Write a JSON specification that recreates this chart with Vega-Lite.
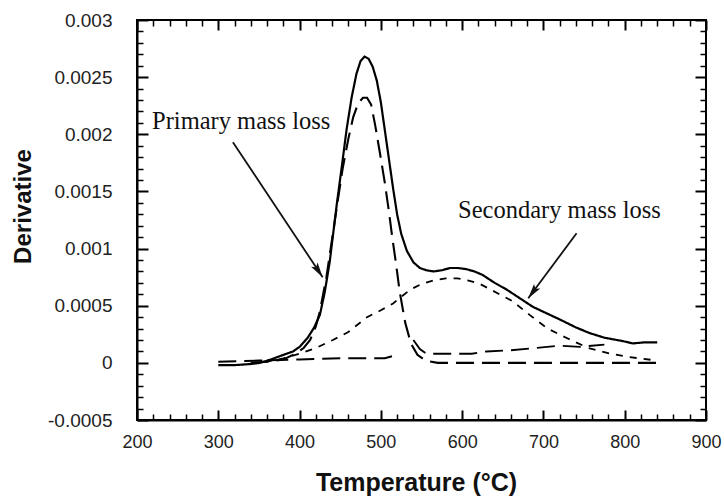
{
  "$schema": "https://vega.github.io/schema/vega-lite/v6.json",
  "width": 569,
  "height": 400,
  "autosize": "none",
  "padding": {"left": 137, "top": 20, "right": 18, "bottom": 81},
  "background": "white",
  "config": {
    "view": {"stroke": "#000", "strokeWidth": 2},
    "axis": {"grid": false, "domainColor": "#000", "domainWidth": 2, "labelOverlap": false, "labelFlush": false}
  },
  "datasets": {
    "curves": [
      {"series": "total", "T": 300, "v": -0.00002},
      {"series": "total", "T": 320, "v": -0.00002},
      {"series": "total", "T": 340, "v": -0.00001},
      {"series": "total", "T": 351, "v": 0},
      {"series": "total", "T": 365, "v": 0.00003},
      {"series": "total", "T": 380, "v": 0.00007},
      {"series": "total", "T": 392, "v": 0.0001},
      {"series": "total", "T": 400, "v": 0.00014},
      {"series": "total", "T": 410, "v": 0.00022},
      {"series": "total", "T": 418, "v": 0.00031},
      {"series": "total", "T": 425, "v": 0.00042},
      {"series": "total", "T": 431, "v": 0.00062},
      {"series": "total", "T": 437, "v": 0.00088},
      {"series": "total", "T": 446, "v": 0.0014},
      {"series": "total", "T": 452, "v": 0.00172},
      {"series": "total", "T": 458, "v": 0.00205},
      {"series": "total", "T": 464, "v": 0.00232},
      {"series": "total", "T": 470, "v": 0.00253},
      {"series": "total", "T": 475, "v": 0.00264},
      {"series": "total", "T": 480, "v": 0.00268},
      {"series": "total", "T": 485, "v": 0.00266},
      {"series": "total", "T": 490, "v": 0.00259},
      {"series": "total", "T": 495, "v": 0.00247},
      {"series": "total", "T": 500, "v": 0.00228},
      {"series": "total", "T": 505, "v": 0.00203},
      {"series": "total", "T": 510, "v": 0.00178},
      {"series": "total", "T": 515, "v": 0.00153},
      {"series": "total", "T": 520, "v": 0.0013},
      {"series": "total", "T": 525, "v": 0.00113},
      {"series": "total", "T": 532, "v": 0.00098},
      {"series": "total", "T": 540, "v": 0.00088},
      {"series": "total", "T": 548, "v": 0.00083},
      {"series": "total", "T": 556, "v": 0.00081},
      {"series": "total", "T": 565, "v": 0.0008},
      {"series": "total", "T": 575, "v": 0.00081},
      {"series": "total", "T": 585, "v": 0.00083},
      {"series": "total", "T": 595, "v": 0.00083},
      {"series": "total", "T": 605, "v": 0.00082},
      {"series": "total", "T": 615, "v": 0.0008},
      {"series": "total", "T": 625, "v": 0.00077},
      {"series": "total", "T": 640, "v": 0.0007},
      {"series": "total", "T": 655, "v": 0.00064},
      {"series": "total", "T": 670, "v": 0.00057},
      {"series": "total", "T": 687, "v": 0.00049},
      {"series": "total", "T": 705, "v": 0.00043},
      {"series": "total", "T": 720, "v": 0.00038},
      {"series": "total", "T": 740, "v": 0.00031},
      {"series": "total", "T": 757, "v": 0.00026},
      {"series": "total", "T": 775, "v": 0.00022},
      {"series": "total", "T": 798, "v": 0.00019},
      {"series": "total", "T": 810, "v": 0.00017},
      {"series": "total", "T": 825, "v": 0.00018},
      {"series": "total", "T": 840, "v": 0.00018},

      {"series": "primary", "T": 340, "v": 0},
      {"series": "primary", "T": 360, "v": 0.00001},
      {"series": "primary", "T": 380, "v": 0.00003},
      {"series": "primary", "T": 395, "v": 0.00008},
      {"series": "primary", "T": 405, "v": 0.00013},
      {"series": "primary", "T": 413, "v": 0.0002},
      {"series": "primary", "T": 420, "v": 0.00032},
      {"series": "primary", "T": 425, "v": 0.00045},
      {"series": "primary", "T": 433, "v": 0.00075},
      {"series": "primary", "T": 441, "v": 0.00113},
      {"series": "primary", "T": 447, "v": 0.00142},
      {"series": "primary", "T": 453, "v": 0.0017},
      {"series": "primary", "T": 460, "v": 0.00196},
      {"series": "primary", "T": 466, "v": 0.00215},
      {"series": "primary", "T": 472, "v": 0.00227},
      {"series": "primary", "T": 478, "v": 0.00232},
      {"series": "primary", "T": 483, "v": 0.00232},
      {"series": "primary", "T": 488, "v": 0.00226},
      {"series": "primary", "T": 493, "v": 0.00208},
      {"series": "primary", "T": 499, "v": 0.00183},
      {"series": "primary", "T": 505, "v": 0.00157},
      {"series": "primary", "T": 510, "v": 0.00132},
      {"series": "primary", "T": 514, "v": 0.0011},
      {"series": "primary", "T": 519, "v": 0.00085},
      {"series": "primary", "T": 523, "v": 0.00063},
      {"series": "primary", "T": 530, "v": 0.00035},
      {"series": "primary", "T": 537, "v": 0.00017},
      {"series": "primary", "T": 545, "v": 0.00007},
      {"series": "primary", "T": 555, "v": 0.00002},
      {"series": "primary", "T": 570, "v": 0},
      {"series": "primary", "T": 700, "v": 0},
      {"series": "primary", "T": 840, "v": 0},

      {"series": "resA", "T": 300, "v": 0.00001},
      {"series": "resA", "T": 350, "v": 0.00002},
      {"series": "resA", "T": 400, "v": 0.00003},
      {"series": "resA", "T": 450, "v": 0.00004},
      {"series": "resA", "T": 505, "v": 0.00004},
      {"series": "resA", "T": 515, "v": 0.00006},
      {"series": "resA", "T": 522, "v": 0.00008},

      {"series": "resB", "T": 540, "v": 0.0002},
      {"series": "resB", "T": 548, "v": 0.00012},
      {"series": "resB", "T": 556, "v": 0.00008},
      {"series": "resB", "T": 580, "v": 0.00008},
      {"series": "resB", "T": 612, "v": 0.00008},
      {"series": "resB", "T": 630, "v": 0.0001},
      {"series": "resB", "T": 660, "v": 0.00011},
      {"series": "resB", "T": 690, "v": 0.00013},
      {"series": "resB", "T": 720, "v": 0.00015},
      {"series": "resB", "T": 745, "v": 0.00014},
      {"series": "resB", "T": 775, "v": 0.00016},

      {"series": "secondary", "T": 340, "v": 0},
      {"series": "secondary", "T": 360, "v": 0.00001},
      {"series": "secondary", "T": 380, "v": 0.00004},
      {"series": "secondary", "T": 400, "v": 0.00008},
      {"series": "secondary", "T": 420, "v": 0.00013},
      {"series": "secondary", "T": 441, "v": 0.0002},
      {"series": "secondary", "T": 460, "v": 0.00027},
      {"series": "secondary", "T": 483, "v": 0.0004},
      {"series": "secondary", "T": 500, "v": 0.00046},
      {"series": "secondary", "T": 515, "v": 0.00052},
      {"series": "secondary", "T": 536, "v": 0.00064},
      {"series": "secondary", "T": 550, "v": 0.00069},
      {"series": "secondary", "T": 564, "v": 0.00072},
      {"series": "secondary", "T": 580, "v": 0.00074},
      {"series": "secondary", "T": 594, "v": 0.00074},
      {"series": "secondary", "T": 608, "v": 0.00072},
      {"series": "secondary", "T": 622, "v": 0.00069},
      {"series": "secondary", "T": 638, "v": 0.00063},
      {"series": "secondary", "T": 662, "v": 0.00054},
      {"series": "secondary", "T": 683, "v": 0.00042},
      {"series": "secondary", "T": 705, "v": 0.0003},
      {"series": "secondary", "T": 728, "v": 0.00022},
      {"series": "secondary", "T": 755, "v": 0.00013},
      {"series": "secondary", "T": 782, "v": 0.00008},
      {"series": "secondary", "T": 806, "v": 0.00005},
      {"series": "secondary", "T": 840, "v": 0.00002}
    ],
    "anchor": [
      {"T": 300, "v": 0.0001},
      {"T": 800, "v": 0.002}
    ],
    "arrows": [
      {"T": 318, "v": 0.00193, "T2": 428.4, "v2": 0.00075, "angle": 146.3},
      {"T": 740.8, "v": 0.001134, "T2": 681.3, "v2": 0.000565, "angle": 216.7}
    ],
    "notes": [
      {"T": 218.5, "v": 0.00205, "label": "Primary mass loss"},
      {"T": 595, "v": 0.00127, "label": "Secondary mass loss"}
    ]
  },
  "layer": [
    {
      "data": {"name": "curves"},
      "mark": {"type": "line", "color": "#000", "strokeCap": "butt"},
      "encoding": {
        "x": {
          "field": "T", "type": "quantitative",
          "scale": {"domain": [200, 900], "nice": false},
          "axis": {
            "orient": "bottom",
            "values": [200, 300, 400, 500, 600, 700, 800, 900],
            "format": "d",
            "tickSize": 0,
            "labelFont": "Liberation Sans", "labelFontSize": 18, "labelColor": "#222",
            "labelPadding": 13,
            "title": "Temperature (°C)",
            "titleFont": "Liberation Sans", "titleFontSize": 25, "titleFontWeight": "bold", "titleColor": "#111",
            "titleX": 279, "titleY": 70, "titleBaseline": "alphabetic", "titleAlign": "center"
          }
        },
        "y": {
          "field": "v", "type": "quantitative",
          "scale": {"domain": [-0.0005, 0.003], "nice": false},
          "axis": {
            "orient": "left",
            "values": [-0.0005, 0, 0.0005, 0.001, 0.0015, 0.002, 0.0025, 0.003],
            "labelExpr": "toString(datum.value)",
            "tickSize": 0,
            "labelFont": "Liberation Sans", "labelFontSize": 19, "labelColor": "#222",
            "labelPadding": 25,
            "title": "Derivative",
            "titleFont": "Liberation Sans", "titleFontSize": 24, "titleFontWeight": "bold", "titleColor": "#111",
            "titleX": -114, "titleY": 186, "titleAngle": 270, "titleAlign": "center", "titleBaseline": "middle"
          }
        },
        "detail": {"field": "series"},
        "strokeDash": {
          "field": "series", "type": "nominal",
          "scale": {"domain": ["total", "primary", "resA", "resB", "secondary"], "range": [[1, 0], [18, 8], [18, 8], [18, 8], [7, 7]]},
          "legend": null
        },
        "strokeWidth": {
          "field": "series", "type": "nominal",
          "scale": {"domain": ["total", "primary", "resA", "resB", "secondary"], "range": [2.2, 1.8, 1.8, 1.8, 1.8]},
          "legend": null
        }
      }
    },
    {
      "data": {"name": "anchor"},
      "mark": {"type": "point", "opacity": 0},
      "encoding": {
        "x": {
          "field": "T", "type": "quantitative",
          "scale": {"domain": [200, 900], "nice": false},
          "axis": {"orient": "bottom", "values": [200, 300, 400, 500, 600, 700, 800, 900], "labels": false, "domain": false, "title": null, "tickSize": 10, "offset": -10, "tickWidth": 2, "tickColor": "black"}
        },
        "y": {
          "field": "v", "type": "quantitative",
          "scale": {"domain": [-0.0005, 0.003], "nice": false},
          "axis": {"orient": "left", "values": [-0.0005, 0, 0.0005, 0.001, 0.0015, 0.002, 0.0025, 0.003], "labels": false, "domain": false, "title": null, "tickSize": 11, "offset": -11, "tickWidth": 2, "tickColor": "black"}
        }
      }
    },
    {
      "data": {"name": "anchor"},
      "mark": {"type": "point", "opacity": 0},
      "encoding": {
        "x": {
          "field": "T", "type": "quantitative",
          "scale": {"domain": [200, 900], "nice": false},
          "axis": {"orient": "bottom", "values": [220,240,260,280,320,340,360,380,420,440,460,480,520,540,560,580,620,640,660,680,720,740,760,780,820,840,860,880], "labels": false, "domain": false, "title": null, "tickSize": 6, "offset": -6, "tickWidth": 1.5, "tickColor": "black"}
        },
        "y": {
          "field": "v", "type": "quantitative",
          "scale": {"domain": [-0.0005, 0.003], "nice": false},
          "axis": {"orient": "left", "values": [-0.0004,-0.0003,-0.0002,-0.0001,0.0001,0.0002,0.0003,0.0004,0.0006,0.0007,0.0008,0.0009,0.0011,0.0012,0.0013,0.0014,0.0016,0.0017,0.0018,0.0019,0.0021,0.0022,0.0023,0.0024,0.0026,0.0027,0.0028,0.0029], "labels": false, "domain": false, "title": null, "tickSize": 6, "offset": -6, "tickWidth": 1.5, "tickColor": "black"}
        }
      }
    },
    {
      "data": {"name": "anchor"},
      "mark": {"type": "point", "opacity": 0},
      "encoding": {
        "x": {
          "field": "T", "type": "quantitative",
          "scale": {"domain": [200, 900], "nice": false},
          "axis": {"orient": "top", "values": [200, 300, 400, 500, 600, 700, 800, 900], "labels": false, "domain": false, "title": null, "tickSize": 10, "offset": -10, "tickWidth": 2, "tickColor": "black"}
        },
        "y": {
          "field": "v", "type": "quantitative",
          "scale": {"domain": [-0.0005, 0.003], "nice": false},
          "axis": {"orient": "right", "values": [-0.0005, 0, 0.0005, 0.001, 0.0015, 0.002, 0.0025, 0.003], "labels": false, "domain": false, "title": null, "tickSize": 11, "offset": -11, "tickWidth": 2, "tickColor": "black"}
        }
      }
    },
    {
      "data": {"name": "anchor"},
      "mark": {"type": "point", "opacity": 0},
      "encoding": {
        "x": {
          "field": "T", "type": "quantitative",
          "scale": {"domain": [200, 900], "nice": false},
          "axis": {"orient": "top", "values": [220,240,260,280,320,340,360,380,420,440,460,480,520,540,560,580,620,640,660,680,720,740,760,780,820,840,860,880], "labels": false, "domain": false, "title": null, "tickSize": 6, "offset": -6, "tickWidth": 1.5, "tickColor": "black"}
        },
        "y": {
          "field": "v", "type": "quantitative",
          "scale": {"domain": [-0.0005, 0.003], "nice": false},
          "axis": {"orient": "right", "values": [-0.0004,-0.0003,-0.0002,-0.0001,0.0001,0.0002,0.0003,0.0004,0.0006,0.0007,0.0008,0.0009,0.0011,0.0012,0.0013,0.0014,0.0016,0.0017,0.0018,0.0019,0.0021,0.0022,0.0023,0.0024,0.0026,0.0027,0.0028,0.0029], "labels": false, "domain": false, "title": null, "tickSize": 6, "offset": -6, "tickWidth": 1.5, "tickColor": "black"}
        }
      }
    },
    {
      "data": {"name": "arrows"},
      "mark": {"type": "rule", "color": "#111", "strokeWidth": 1.8},
      "encoding": {
        "x": {"field": "T", "type": "quantitative", "scale": {"domain": [200, 900], "nice": false}, "axis": {"orient": "bottom", "labels": false, "ticks": false, "domain": false, "title": null, "grid": false}},
        "y": {"field": "v", "type": "quantitative", "scale": {"domain": [-0.0005, 0.003], "nice": false}, "axis": {"orient": "left", "labels": false, "ticks": false, "domain": false, "title": null, "grid": false}},
        "x2": {"field": "T2"},
        "y2": {"field": "v2"}
      }
    },
    {
      "data": {"name": "arrows"},
      "mark": {"type": "point", "shape": "M0,0 L-0.26,1 L0,0.8 L0.26,1 Z", "filled": true, "color": "#111", "size": 900, "opacity": 1, "strokeWidth": 0.5},
      "encoding": {
        "x": {"field": "T2", "type": "quantitative", "scale": {"domain": [200, 900], "nice": false}, "axis": {"orient": "bottom", "labels": false, "ticks": false, "domain": false, "title": null, "grid": false}},
        "y": {"field": "v2", "type": "quantitative", "scale": {"domain": [-0.0005, 0.003], "nice": false}, "axis": {"orient": "left", "labels": false, "ticks": false, "domain": false, "title": null, "grid": false}},
        "angle": {"field": "angle", "type": "quantitative", "scale": null}
      }
    },
    {
      "data": {"name": "notes"},
      "mark": {"type": "text", "font": "Liberation Serif", "fontSize": 24.5, "align": "left", "baseline": "alphabetic", "color": "#111"},
      "encoding": {
        "x": {"field": "T", "type": "quantitative", "scale": {"domain": [200, 900], "nice": false}, "axis": {"orient": "bottom", "labels": false, "ticks": false, "domain": false, "title": null, "grid": false}},
        "y": {"field": "v", "type": "quantitative", "scale": {"domain": [-0.0005, 0.003], "nice": false}, "axis": {"orient": "left", "labels": false, "ticks": false, "domain": false, "title": null, "grid": false}},
        "text": {"field": "label"}
      }
    }
  ],
  "resolve": {"axis": {"x": "independent", "y": "independent"}}
}
